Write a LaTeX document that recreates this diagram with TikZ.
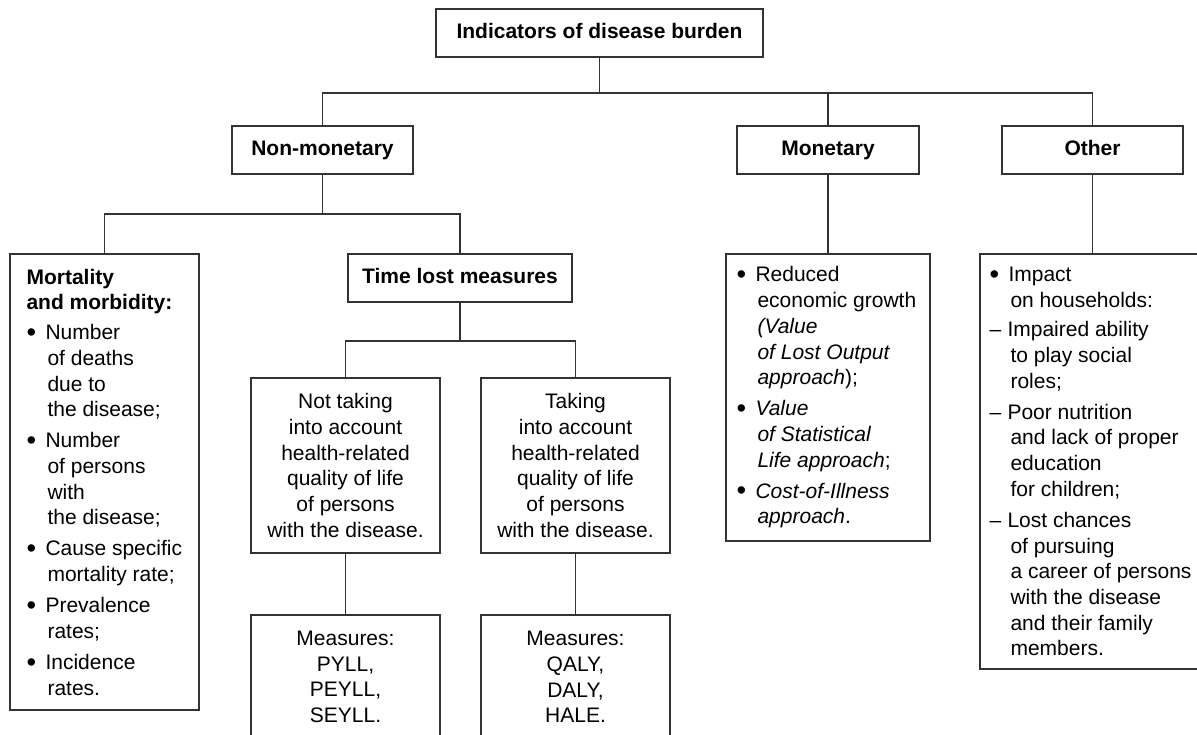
\documentclass[tikz,border=0pt]{standalone}
\usepackage{fontspec}
\usepackage{graphicx}
\setmainfont{Liberation Sans}
\newcommand{\itembul}{\makebox[19pt][l]{\raisebox{-1.8pt}{\scalebox{1.3}{\textbullet}}}}
\newcommand{\itemdash}{\makebox[18pt][l]{–}}
\newcommand{\contline}{\hspace*{21pt}}

\begin{document}
\begin{tikzpicture}[x=1pt, y=-1pt, line width=1.1pt,
  box/.style={draw=black!80, inner sep=0pt, align=center, font=\fontsize{21}{25.7}\selectfont},
  hdr/.style={box, minimum height=48pt, text height=15pt, text depth=4.5pt, font=\fontsize{21}{25.7}\selectfont\bfseries},
  txt/.style={inner sep=0pt, align=left, anchor=west, font=\fontsize{21}{25.7}\selectfont},
  link/.style={draw=black!80}]
  \fill[white] (0, 0) rectangle (1197, 735);
  \useasboundingbox (0, 0) rectangle (1197, 735);

  \node[hdr, minimum width=327pt] (burden) at (599.5, 33) {Indicators of disease burden};
  \node[hdr, minimum width=181pt] (nonmon) at (322.5, 150) {Non-monetary};
  \node[hdr, minimum width=182pt] (mon) at (828, 150) {Monetary};
  \node[hdr, minimum width=181pt] (other) at (1092.5, 150) {Other};

  \node[box, minimum width=189pt, minimum height=456pt] (mortbox) at (104.5, 482) {};
  \node[txt] (morttxt) at (26, 482) {\textbf{Mortality}\\\textbf{and morbidity:}\\[4.3pt]
    \itembul Number\\\contline of deaths\\\contline due to\\\contline the disease;\\[5.3pt]
    \itembul Number\\\contline of persons\\\contline with\\\contline the disease;\\[5.3pt]
    \itembul Cause specific\\\contline mortality rate;\\[5.3pt]
    \itembul Prevalence\\\contline rates;\\[5.3pt]
    \itembul Incidence\\\contline rates.};

  \node[hdr, minimum width=224pt] (timelost) at (460, 278) {Time lost measures};
  \node[box, minimum width=189pt, minimum height=175pt] (notqol) at (345.5, 465.5)
    {Not taking\\into account\\health-related\\quality of life\\of persons\\with the disease.};
  \node[box, minimum width=189pt, minimum height=175pt] (qol) at (575.5, 465.5)
    {Taking\\into account\\health-related\\quality of life\\of persons\\with the disease.};
  \node[box, minimum width=189pt, minimum height=124pt] (pyll) at (345.5, 677)
    {Measures:\\PYLL,\\PEYLL,\\SEYLL.};
  \node[box, minimum width=189pt, minimum height=124pt] (qaly) at (575.5, 677)
    {Measures:\\QALY,\\DALY,\\HALE.};

  \node[box, minimum width=204pt, minimum height=287pt] (monbox) at (828, 397.5) {};
  \node[txt] (montxt) at (736, 397.5) {\itembul Reduced\\\contline economic growth\\
    \contline\textit{(Value}\\\contline\textit{of Lost Output}\\\contline\textit{approach});\\[5.3pt]
    \itembul\textit{Value}\\\contline\textit{of Statistical}\\\contline\textit{Life approach};\\[5.3pt]
    \itembul\textit{Cost-of-Illness}\\\contline\textit{approach}.};

  \node[box, minimum width=225pt, minimum height=415pt] (othbox) at (1092.5, 461.5) {};
  \node[txt] (othtxt) at (989, 461.5) {\itembul Impact\\\contline on households:\\[4pt]
    \itemdash Impaired ability\\\contline to play social\\\contline roles;\\[5.3pt]
    \itemdash Poor nutrition\\\contline and lack of proper\\\contline education\\\contline for children;\\[5.3pt]
    \itemdash Lost chances\\\contline of pursuing\\\contline a career of persons\\\contline with the disease\\
    \contline and their family\\\contline members.};

  \coordinate (bus1) at (599.5, 93);
  \coordinate (bus2) at (322.5, 214);
  \coordinate (bus3) at (460, 341);
  \draw[link] (burden.south) -- (bus1);
  \draw[link] (bus1) -| (nonmon.north);
  \draw[link] (bus1) -| (mon.north);
  \draw[link] (bus1) -| (other.north);
  \draw[link] (nonmon.south) -- (bus2);
  \draw[link] (bus2) -| (mortbox.north);
  \draw[link] (bus2) -| (timelost.north);
  \draw[link] (timelost.south) -- (bus3);
  \draw[link] (bus3) -| (notqol.north);
  \draw[link] (bus3) -| (qol.north);
  \draw[link] (notqol.south) -- (pyll.north);
  \draw[link] (qol.south) -- (qaly.north);
  \draw[link] (mon.south) -- (monbox.north);
  \draw[link] (other.south) -- (othbox.north);
\end{tikzpicture}
\end{document}
